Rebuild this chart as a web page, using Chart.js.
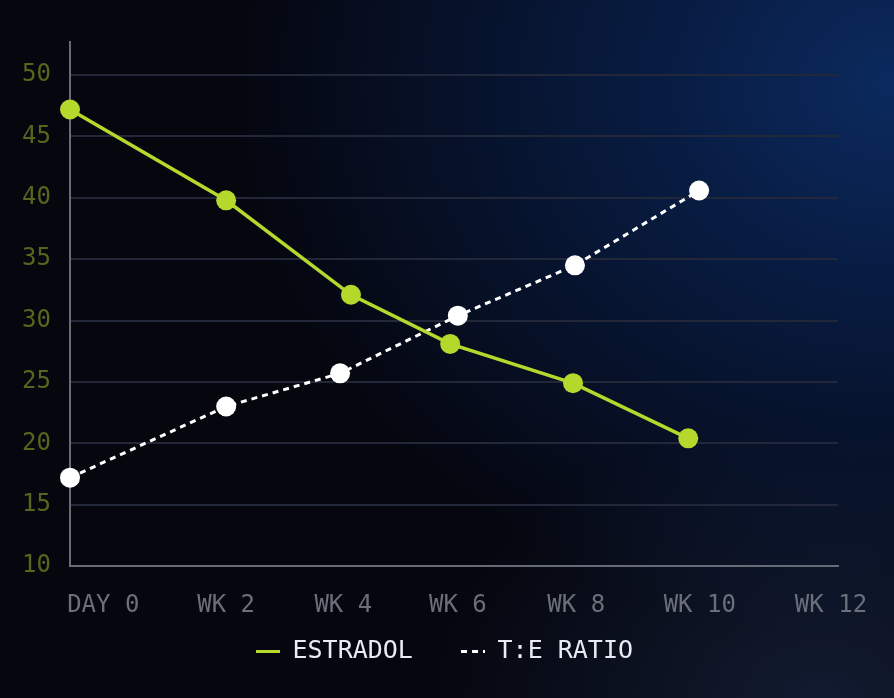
<!DOCTYPE html>
<html>
<head>
<meta charset="utf-8">
<script src="https://cdn.jsdelivr.net/npm/chart.js@4.4.0/dist/chart.umd.min.js"></script>
<style>
html, body { margin: 0; padding: 0; }
body {
    width: 894px;
    height: 698px;
    overflow: hidden;
    background:
        radial-gradient(ellipse 45% 40% at 92% 100%, rgba(40, 66, 110, 0.35) 0%, rgba(40, 66, 110, 0) 100%),
        radial-gradient(ellipse 75% 80% at 100% 12%, #0b2a5e 0%, #081c42 35%, rgba(6, 10, 24, 0) 100%),
        #05060e;
}
#wrap { position: relative; width: 894px; height: 698px; }
</style>
</head>
<body>
<div id="wrap"><canvas id="myChart"></canvas></div>
<script>
const ctx = document.getElementById('myChart').getContext('2d');

// x in weeks, y values
const estradolWeeks = [0, 2.44, 4.39, 5.94, 7.86, 9.66]
const estradolValues = [47.2, 39.8, 32.1, 28.1, 24.9, 20.4]
const ratioWeeks = [0, 2.44, 4.22, 6.06, 7.89, 9.83]
const ratioValues = [17.2, 23.0, 25.7, 30.4, 34.5, 40.6]

const tickLabels = ["DAY 0", "WK 2", "WK 4", "WK 6", "WK 8", "WK 10", "WK 12"]
const tickWeeks = [0.52, 2.44, 4.27, 6.06, 7.91, 9.84, 11.89]

const toPoints = (xs, ys) => xs.map((x, i) => ({ x: x, y: ys[i] }))

const mono = "'DejaVu Sans Mono', monospace"
const green = '#b4d82b'

const chart = new Chart(ctx, {
    type: 'line',
    data: {
        datasets: [{
            label: 'ESTRADOL',
            data: toPoints(estradolWeeks, estradolValues),
            borderColor: green,
            backgroundColor: green,
            pointBackgroundColor: green,
            borderWidth: 3.5,
            pointRadius: 10,
            pointBorderWidth: 0,
            clip: false
        }, {
            label: 'T:E RATIO',
            data: toPoints(ratioWeeks, ratioValues),
            borderColor: '#ffffff',
            backgroundColor: '#ffffff',
            pointBackgroundColor: '#ffffff',
            borderWidth: 3,
            borderDash: [6, 5],
            pointRadius: 10,
            pointBorderWidth: 0,
            clip: false
        }]
    },
    options: {
        responsive: true,
        maintainAspectRatio: false,
        animation: false,
        layout: { padding: { top: 42, right: 5, left: 0, bottom: 24 } },
        plugins: {
            tooltip: { enabled: false },
            legend: {
                position: 'bottom',
                labels: {
                    color: '#e9ecf2',
                    font: { family: mono, size: 25 },
                    usePointStyle: true,
                    pointStyleWidth: 24,
                    padding: 18,
                    // extra room after each item except the last
                    generateLabels: (chart) => chart.data.datasets.map((ds, i, all) => ({
                        text: i < all.length - 1 ? ds.label + '  ' : ds.label,
                        fontColor: '#e9ecf2',
                        strokeStyle: ds.borderColor,
                        fillStyle: ds.borderColor,
                        lineWidth: 3,
                        lineDash: ds.borderDash || [],
                        pointStyle: 'line',
                        datasetIndex: i,
                        hidden: false
                    }))
                }
            }
        },
        scales: {
            x: {
                type: 'linear',
                min: 0,
                max: 12,
                grid: { display: false },
                border: { color: '#676b78', width: 2 },
                afterBuildTicks: (scale) => {
                    scale.ticks = tickWeeks.map(v => ({ value: v }))
                },
                afterFit: (scale) => { scale.height = 55 },
                ticks: {
                    autoSkip: false,
                    maxRotation: 0,
                    color: '#6b6f7a',
                    font: { family: mono, size: 24 },
                    padding: 17,
                    callback: (value, index) => tickLabels[index]
                }
            },
            y: {
                min: 10,
                max: 52.7,
                afterBuildTicks: (scale) => {
                    scale.ticks = scale.ticks.filter(t => t.value % 5 === 0)
                },
                afterFit: (scale) => { scale.width = 70 },
                grid: { color: '#22283a', lineWidth: 2, drawTicks: false },
                border: { color: '#676b78', width: 2 },
                ticks: {
                    stepSize: 5,
                    color: '#56661f',
                    font: { family: mono, size: 24 },
                    padding: 19
                }
            },
            // empty spacer on the right so the plot ends where the original does
            spacer: {
                type: 'linear',
                position: 'right',
                grid: { display: false },
                border: { display: false },
                ticks: { display: false },
                afterFit: (scale) => { scale.width = 51 }
            }
        }
    }
});
</script>
</body>
</html>
